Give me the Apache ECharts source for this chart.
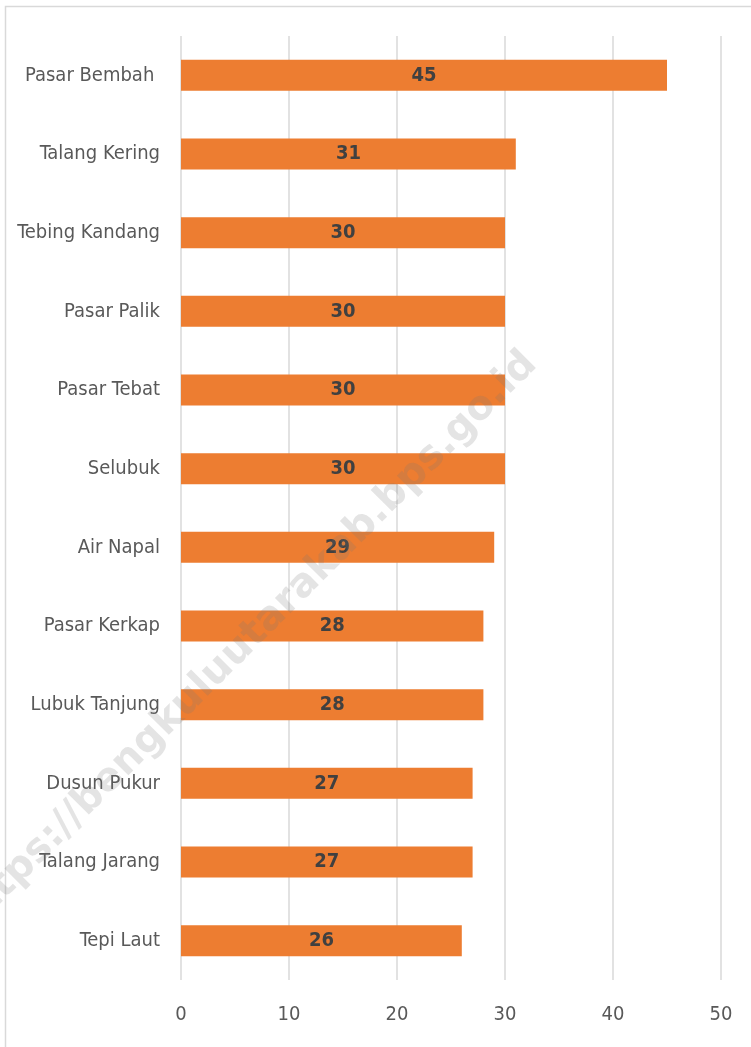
<!DOCTYPE html>
<html><head><meta charset="utf-8">
<script src="https://cdn.jsdelivr.net/npm/echarts@6/dist/echarts.min.js"></script>
<style>html,body{margin:0;padding:0;background:#fff}#c{width:751px;height:1047px}</style>
</head><body><div id="c"></div>
<script>
const categories = ["Pasar Bembah ", "Talang Kering", "Tebing Kandang", "Pasar Palik", "Pasar Tebat", "Selubuk", "Air Napal", "Pasar Kerkap", "Lubuk Tanjung", "Dusun Pukur", "Talang Jarang", "Tepi Laut"];
const values = [45, 31, 30, 30, 30, 30, 29, 28, 28, 27, 27, 26];
const xTicks = [0, 10, 20, 30, 40, 50];
const watermark = "https://bengkuluutarakab.bps.go.id";

const FONT = "'DejaVu Sans Condensed', 'Liberation Sans Narrow', sans-serif";
const chart = echarts.init(document.getElementById('c'), null, {renderer: 'canvas'});
chart.setOption({
  backgroundColor: '#ffffff',
  animation: false,
  grid: {left: 181, right: 30, top: 36, bottom: 67, containLabel: false, outerBoundsMode: 'none'},
  xAxis: {
    type: 'value', min: xTicks[0], max: xTicks[xTicks.length - 1], interval: 10,
    axisLine: {show: false}, axisTick: {show: false},
    splitLine: {show: true, lineStyle: {color: '#d9d9d9', width: 1.5}},
    axisLabel: {color: '#595959', fontFamily: FONT, fontSize: 20, margin: 25}
  },
  yAxis: {
    type: 'category', data: categories, inverse: true,
    axisLine: {show: false}, axisTick: {show: false},
    axisLabel: {color: '#595959', fontFamily: FONT, fontSize: 20, margin: 21}
  },
  series: [{
    type: 'bar', data: values, barWidth: 31,
    itemStyle: {color: '#ed7d31'},
    label: {show: true, position: 'inside', color: '#404040', fontFamily: FONT, fontSize: 20, fontWeight: 'bold'}
  }],
  graphic: [
    {type: 'rect', left: 3, top: 4, shape: {width: 800, height: 1100}, style: {fill: 'none', stroke: '#d9d9d9', lineWidth: 1.5}, silent: true},
    {type: 'text', x: 247, y: 642, rotation: Math.PI / 4, originX: 0, originY: 0,
     style: {text: watermark, fill: 'rgba(120,120,120,0.2)', font: "bold 40px 'DejaVu Sans', sans-serif", align: 'center', verticalAlign: 'middle'}, z: 100, silent: true}
  ]
});
</script></body></html>
